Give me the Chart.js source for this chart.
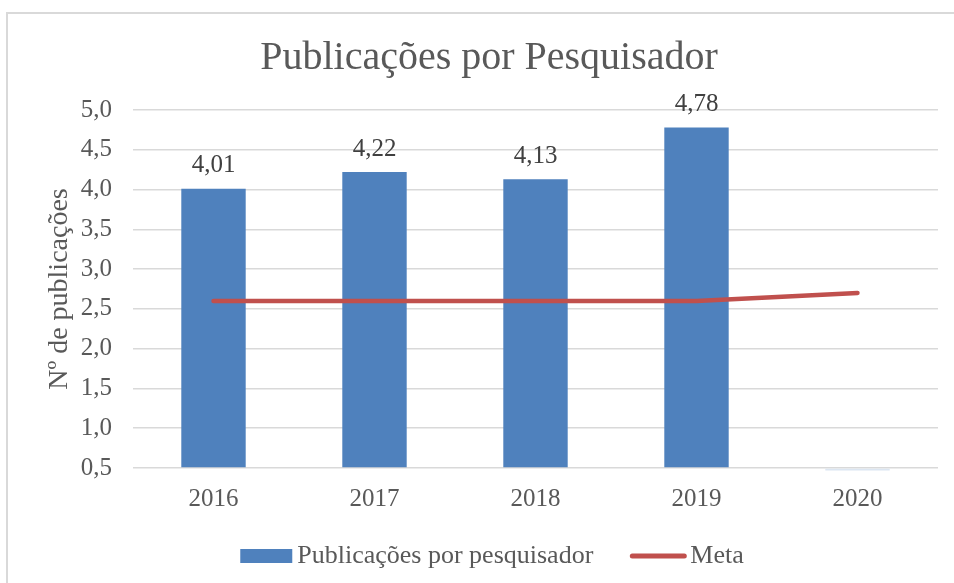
<!DOCTYPE html>
<html>
<head>
<meta charset="utf-8">
<script src="https://cdn.jsdelivr.net/npm/chart.js@4"></script>
<style>
  html, body { margin: 0; padding: 0; background: #fff; overflow: hidden; }
  #frame { position: absolute; left: 6px; top: 12px; width: 980px; height: 620px; border: 2px solid #d9d9d9; }
  #wrap { position: absolute; left: 0; top: 0; width: 954px; height: 583px; }
</style>
</head>
<body>
<div id="frame"></div>
<div id="wrap"><canvas id="chart"></canvas></div>
<script>
const years = ["2016", "2017", "2018", "2019", "2020"];
const pubsPerResearcher = [4.01, 4.22, 4.13, 4.78, 0.47];
const goal = [2.6, 2.6, 2.6, 2.6, 2.7];
const yTicks = [0.5, 1.0, 1.5, 2.0, 2.5, 3.0, 3.5, 4.0, 4.5, 5.0];

const SERIF = "'Liberation Serif', 'Times New Roman', serif";
const GREY = "#595959";
const BLUE = "#4F81BD";
const RED = "#C0504D";

const fmtNum = (v, d) => v.toFixed(d).replace(".", ",");

// value labels above the bars (skipped when the bar falls under the axis min)
const barLabels = {
  id: "barLabels",
  afterDatasetsDraw(chart) {
    const { ctx } = chart;
    const meta = chart.getDatasetMeta(0);
    const min = chart.scales.y.min;
    ctx.save();
    ctx.font = "25px " + SERIF;
    ctx.fillStyle = "#404040";
    ctx.textAlign = "center";
    ctx.textBaseline = "middle";
    meta.data.forEach((bar, i) => {
      const v = pubsPerResearcher[i];
      if (v < min) return;
      ctx.fillText(fmtNum(v, 2), bar.x, bar.y - 23);
    });
    ctx.restore();
  },
};

// Excel style legend: wide box for the bars, thick line for the goal
const bottomLegend = {
  id: "bottomLegend",
  afterDraw(chart) {
    const { ctx } = chart;
    const ds = chart.data.datasets;
    ctx.save();
    ctx.font = "26px " + SERIF;
    ctx.textBaseline = "middle";
    const boxW = 52, gap = 5, itemGap = 37;
    const w0 = ctx.measureText(ds[0].label).width;
    const w1 = ctx.measureText(ds[1].label).width;
    const total = boxW + gap + w0 + itemGap + 56 + 4 + w1;
    let x = 492 - total / 2;
    const y = 556;
    ctx.fillStyle = BLUE;
    ctx.fillRect(x, y - 7, boxW, 14);
    x += boxW + gap;
    ctx.fillStyle = GREY;
    ctx.fillText(ds[0].label, x, y);
    x += w0 + itemGap;
    ctx.strokeStyle = RED;
    ctx.lineWidth = 5;
    ctx.lineCap = "round";
    ctx.beginPath();
    ctx.moveTo(x + 2, y);
    ctx.lineTo(x + 54, y);
    ctx.stroke();
    x += 56 + 4;
    ctx.fillStyle = GREY;
    ctx.fillText(ds[1].label, x, y);
    ctx.restore();
  },
};

new Chart(document.getElementById("chart"), {
  type: "bar",
  data: {
    labels: years,
    datasets: [
      {
        type: "bar",
        label: "Publicações por pesquisador",
        data: pubsPerResearcher,
        base: yTicks[0],
        backgroundColor: pubsPerResearcher.map((v) => (v < yTicks[0] ? "#DCE6F2" : BLUE)),
        borderWidth: 0,
        barPercentage: 0.4,
        categoryPercentage: 1,
        clip: { left: 0, top: 0, right: 0, bottom: 3 },
        order: 1,
      },
      {
        type: "line",
        label: "Meta",
        data: goal,
        borderColor: RED,
        backgroundColor: RED,
        borderWidth: 4.5,
        borderCapStyle: "round",
        pointRadius: 0,
        tension: 0,
        order: 0,
      },
    ],
  },
  options: {
    responsive: true,
    maintainAspectRatio: false,
    animation: false,
    layout: { padding: { left: 40, right: 16, top: 0, bottom: 65 } },
    plugins: {
      legend: { display: false },
      tooltip: { enabled: false },
      title: {
        display: true,
        text: "Publicações por Pesquisador",
        color: GREY,
        font: { family: SERIF, size: 40, weight: "normal" },
        padding: { top: 34, bottom: 28 },
      },
    },
    scales: {
      x: {
        offset: true,
        grid: { display: false, drawTicks: false },
        border: { display: false },
        ticks: { color: GREY, font: { family: SERIF, size: 25 }, padding: 16 },
        afterFit: (s) => { s.height = 50; },
      },
      y: {
        min: yTicks[0],
        max: yTicks[yTicks.length - 1],
        afterBuildTicks: (s) => { s.ticks = yTicks.map((v) => ({ value: v })); },
        grid: { color: "#D9D9D9", lineWidth: 1.5, drawTicks: false },
        border: { display: false },
        ticks: {
          color: GREY,
          font: { family: SERIF, size: 25 },
          padding: 21,
          callback: (v) => fmtNum(v, 1),
        },
        title: {
          display: true,
          text: "Nº de publicações",
          color: GREY,
          font: { family: SERIF, size: 28 },
          padding: { top: 3, bottom: 0 },
        },
        afterFit: (s) => { s.width = 93; },
      },
    },
  },
  plugins: [barLabels, bottomLegend],
});
</script>
</body>
</html>
